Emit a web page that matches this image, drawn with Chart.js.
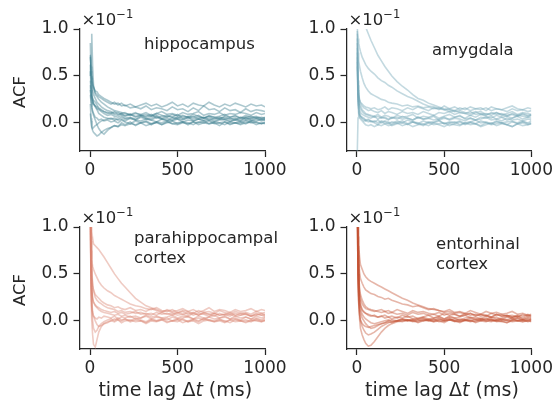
<!DOCTYPE html>
<html>
<head>
<meta charset="utf-8">
<script src="https://cdn.jsdelivr.net/npm/chart.js@4.4.1/dist/chart.umd.min.js"></script>
<style>
  html, body { margin: 0; padding: 0; background: #fff; }
  #wrap { position: relative; width: 556px; height: 408px; }
  #wrap canvas { position: absolute; left: 0; top: 0; }
</style>
</head>
<body>
<div id="wrap">
  <canvas id="c1" width="556" height="408"></canvas>
  <canvas id="c2" width="556" height="408"></canvas>
  <canvas id="c3" width="556" height="408"></canvas>
  <canvas id="c4" width="556" height="408"></canvas>
</div>
<script>
// time lags (ms) shared by every trace
var lagsMs = [2,6,10,15,20,30,40,50,65,80,100,120,140,160,180,200,230,260,290,320,350,380,410,440,470,500,530,560,590,620,650,680,710,740,770,800,830,860,890,920,950,980,1000];

var xTicks = [0, 500, 1000];
var yTicks = [0.0, 0.5, 1.0];

// ACF values in units of 1e-1
var hippocampusTraces = [
  [0.72,0.55,0.42,0.35,0.30,0.26,0.22,0.20,0.17,0.15,0.13,0.12,0.10,0.11,0.09,0.08,0.09,0.07,0.08,0.06,0.07,0.08,0.05,0.07,0.06,0.05,0.07,0.06,0.04,0.06,0.05,0.07,0.04,0.05,0.06,0.04,0.05,0.03,0.06,0.04,0.05,0.03,0.04],
  [0.85,0.48,0.30,0.25,0.20,0.18,0.15,0.14,0.12,0.10,0.08,0.09,0.07,0.06,0.08,0.05,0.06,0.04,0.07,0.05,0.03,0.06,0.04,0.02,0.05,0.04,0.03,0.06,0.02,0.04,0.03,0.05,0.02,0.04,0.03,0.01,0.04,0.02,0.05,0.03,0.02,0.04,0.03],
  [0.30,0.22,0.18,0.12,0.08,0.03,-0.02,-0.06,-0.10,-0.12,-0.08,-0.05,-0.03,-0.04,0.00,-0.02,0.01,-0.03,0.00,0.02,-0.01,0.01,-0.02,0.00,0.02,-0.01,0.01,0.00,-0.02,0.01,0.00,0.02,-0.01,0.00,0.01,-0.02,0.00,0.01,-0.01,0.02,0.00,-0.01,0.01],
  [0.62,0.50,0.45,0.40,0.38,0.34,0.33,0.30,0.28,0.26,0.24,0.22,0.20,0.21,0.18,0.19,0.16,0.17,0.15,0.18,0.14,0.16,0.15,0.13,0.17,0.14,0.15,0.12,0.16,0.13,0.18,0.14,0.15,0.12,0.16,0.13,0.14,0.11,0.15,0.12,0.14,0.13,0.12],
  [0.40,0.25,0.16,0.12,0.10,0.06,0.05,0.03,0.04,0.02,0.03,0.01,0.02,0.00,0.03,0.01,-0.01,0.02,0.00,0.01,-0.02,0.01,0.00,0.02,-0.01,0.00,0.01,-0.02,0.01,0.00,0.02,-0.01,0.01,0.00,-0.02,0.01,0.00,-0.01,0.02,0.00,0.01,-0.01,0.00],
  [0.55,0.38,0.30,0.26,0.24,0.22,0.19,0.16,0.14,0.12,0.10,0.11,0.09,0.08,0.10,0.07,0.09,0.06,0.08,0.07,0.09,0.05,0.07,0.08,0.06,0.09,0.05,0.07,0.06,0.08,0.05,0.07,0.06,0.04,0.07,0.06,0.08,0.05,0.06,0.07,0.05,0.06,0.05],
  [0.20,0.05,-0.05,-0.08,-0.10,-0.12,-0.14,-0.13,-0.10,-0.08,-0.06,-0.05,-0.03,-0.04,-0.02,-0.03,-0.01,-0.02,0.00,-0.03,-0.01,0.00,-0.02,0.01,-0.01,-0.02,0.00,-0.01,0.01,-0.02,0.00,-0.01,0.00,-0.03,0.01,-0.01,0.00,-0.02,0.00,0.01,-0.02,0.00,-0.01],
  [0.50,0.72,0.95,0.60,0.40,0.30,0.28,0.25,0.22,0.20,0.17,0.15,0.13,0.12,0.11,0.10,0.09,0.11,0.08,0.09,0.07,0.10,0.08,0.06,0.09,0.07,0.08,0.06,0.09,0.07,0.05,0.08,0.06,0.07,0.09,0.06,0.07,0.05,0.08,0.06,0.07,0.05,0.06],
  [0.35,0.28,0.25,0.22,0.20,0.17,0.14,0.10,0.08,0.06,0.05,0.04,0.05,0.03,0.04,0.02,0.05,0.03,0.02,0.04,0.03,0.01,0.04,0.03,0.02,0.04,0.01,0.03,0.02,0.04,0.02,0.03,0.01,0.03,0.04,0.02,0.03,0.01,0.03,0.02,0.04,0.02,0.03],
  [0.70,0.60,0.52,0.44,0.38,0.32,0.30,0.28,0.26,0.24,0.22,0.20,0.22,0.19,0.21,0.18,0.20,0.17,0.19,0.21,0.18,0.20,0.17,0.19,0.22,0.18,0.20,0.17,0.21,0.19,0.18,0.22,0.19,0.17,0.20,0.18,0.21,0.19,0.17,0.20,0.18,0.19,0.17],
  [0.10,0.02,-0.04,-0.06,-0.05,-0.03,-0.02,0.00,0.02,0.03,0.04,0.05,0.03,0.04,0.06,0.04,0.05,0.03,0.06,0.04,0.05,0.07,0.04,0.05,0.03,0.06,0.04,0.05,0.07,0.04,0.06,0.03,0.05,0.06,0.04,0.05,0.03,0.06,0.04,0.05,0.06,0.04,0.05],
  [0.45,0.35,0.28,0.24,0.21,0.18,0.17,0.15,0.13,0.12,0.11,0.10,0.12,0.09,0.10,0.11,0.08,0.10,0.09,0.11,0.08,0.10,0.12,0.09,0.10,0.08,0.11,0.09,0.10,0.12,0.08,0.10,0.09,0.11,0.08,0.10,0.09,0.11,0.10,0.08,0.11,0.09,0.10]
];

var amygdalaTraces = [
  [1.40,1.30,1.25,1.20,1.15,1.10,1.06,1.02,0.95,0.88,0.80,0.72,0.66,0.60,0.55,0.50,0.44,0.39,0.35,0.30,0.26,0.24,0.21,0.19,0.17,0.15,0.14,0.12,0.13,0.11,0.10,0.12,0.09,0.10,0.08,0.11,0.09,0.07,0.10,0.08,0.09,0.07,0.08],
  [0.98,0.90,0.85,0.80,0.76,0.70,0.66,0.62,0.58,0.55,0.52,0.48,0.45,0.43,0.40,0.38,0.34,0.31,0.28,0.26,0.23,0.20,0.18,0.17,0.15,0.14,0.12,0.13,0.11,0.10,0.12,0.09,0.10,0.08,0.11,0.09,0.10,0.08,0.09,0.07,0.10,0.08,0.09],
  [0.90,0.75,0.66,0.60,0.55,0.48,0.42,0.38,0.34,0.31,0.29,0.27,0.25,0.24,0.22,0.21,0.20,0.18,0.19,0.17,0.18,0.16,0.17,0.15,0.16,0.14,0.15,0.17,0.14,0.16,0.13,0.15,0.14,0.16,0.13,0.15,0.14,0.12,0.15,0.13,0.14,0.12,0.13],
  [0.95,0.35,0.22,0.18,0.15,0.12,0.10,0.09,0.08,0.07,0.06,0.07,0.05,0.06,0.04,0.05,0.06,0.04,0.05,0.03,0.06,0.04,0.05,0.03,0.04,0.06,0.03,0.05,0.04,0.02,0.05,0.03,0.04,0.06,0.03,0.04,0.02,0.05,0.03,0.04,0.02,0.04,0.03],
  [0.70,0.25,0.15,0.10,0.08,0.05,0.04,0.02,0.03,0.01,0.02,0.00,0.02,0.01,-0.01,0.01,0.00,0.02,-0.01,0.01,0.00,-0.02,0.01,0.00,0.02,-0.01,0.00,0.01,-0.02,0.00,0.01,-0.01,0.02,0.00,-0.01,0.01,0.00,-0.02,0.01,0.00,0.02,-0.01,0.00],
  [-0.30,0.05,0.10,0.08,0.06,0.04,0.02,0.03,0.01,0.02,0.00,-0.02,0.01,-0.01,0.00,-0.03,-0.01,0.00,-0.02,0.01,-0.01,-0.03,0.00,-0.02,-0.01,0.00,-0.03,-0.01,0.01,-0.02,0.00,-0.01,-0.03,0.00,-0.02,-0.01,0.00,-0.02,-0.04,-0.01,0.00,-0.02,-0.01],
  [0.80,0.40,0.28,0.24,0.21,0.18,0.16,0.15,0.13,0.14,0.12,0.11,0.13,0.10,0.12,0.11,0.09,0.12,0.10,0.11,0.09,0.12,0.10,0.08,0.11,0.10,0.12,0.09,0.11,0.10,0.08,0.11,0.12,0.09,0.10,0.11,0.08,0.10,0.12,0.09,0.11,0.10,0.09],
  [0.60,0.20,0.10,0.06,0.04,0.02,0.00,-0.02,-0.03,-0.02,-0.04,-0.02,-0.03,-0.01,-0.03,-0.02,0.00,-0.03,-0.01,-0.04,-0.02,-0.01,-0.03,0.00,-0.02,-0.04,-0.01,-0.02,-0.03,0.00,-0.02,-0.01,-0.04,-0.02,0.00,-0.03,-0.01,-0.02,-0.04,-0.01,-0.03,-0.02,-0.01],
  [1.10,0.45,0.30,0.25,0.22,0.20,0.18,0.17,0.16,0.15,0.16,0.14,0.15,0.17,0.14,0.16,0.15,0.13,0.16,0.14,0.17,0.15,0.13,0.16,0.14,0.18,0.15,0.13,0.16,0.14,0.17,0.15,0.16,0.13,0.17,0.15,0.14,0.16,0.18,0.15,0.14,0.16,0.15],
  [0.75,0.30,0.18,0.14,0.11,0.09,0.08,0.07,0.06,0.05,0.07,0.04,0.06,0.05,0.03,0.06,0.04,0.07,0.05,0.03,0.06,0.04,0.05,0.07,0.03,0.05,0.04,0.06,0.08,0.04,0.05,0.03,0.06,0.05,0.07,0.04,0.06,0.03,0.05,0.07,0.04,0.06,0.05],
  [0.85,0.28,0.14,0.09,0.07,0.06,0.05,0.03,0.04,0.02,0.01,0.03,0.00,0.02,0.01,-0.01,0.02,0.00,0.03,0.01,-0.01,0.02,0.00,0.01,0.03,-0.01,0.01,0.00,0.02,-0.01,0.01,0.03,0.00,0.01,-0.01,0.02,0.00,0.01,0.02,-0.01,0.01,0.00,0.02],
  [0.65,0.32,0.24,0.20,0.18,0.14,0.12,0.10,0.09,0.08,0.07,0.09,0.06,0.08,0.07,0.05,0.08,0.06,0.07,0.09,0.05,0.07,0.06,0.08,0.05,0.07,0.09,0.06,0.07,0.05,0.08,0.06,0.09,0.07,0.05,0.08,0.06,0.07,0.05,0.08,0.07,0.06,0.08]
];

var parahippocampalTraces = [
  [1.50,0.90,0.55,0.40,0.32,0.25,0.22,0.20,0.18,0.16,0.14,0.13,0.12,0.10,0.11,0.09,0.10,0.08,0.09,0.07,0.08,0.06,0.09,0.07,0.08,0.06,0.07,0.09,0.06,0.08,0.07,0.05,0.08,0.06,0.07,0.05,0.08,0.06,0.07,0.05,0.06,0.08,0.06],
  [1.40,1.10,0.95,0.88,0.82,0.80,0.78,0.76,0.72,0.68,0.62,0.56,0.50,0.45,0.40,0.36,0.30,0.24,0.20,0.16,0.14,0.12,0.10,0.11,0.09,0.08,0.10,0.07,0.09,0.06,0.08,0.07,0.05,0.08,0.06,0.07,0.05,0.06,0.08,0.05,0.07,0.06,0.05],
  [1.30,0.85,0.65,0.58,0.55,0.50,0.46,0.42,0.38,0.35,0.32,0.30,0.27,0.25,0.23,0.21,0.18,0.16,0.15,0.13,0.12,0.14,0.11,0.10,0.12,0.09,0.11,0.10,0.08,0.11,0.09,0.10,0.08,0.11,0.09,0.07,0.10,0.08,0.09,0.07,0.10,0.08,0.09],
  [1.20,0.30,0.00,-0.15,-0.25,-0.28,-0.20,-0.12,-0.06,-0.03,-0.01,0.00,0.02,0.01,0.00,0.02,-0.01,0.01,0.00,-0.02,0.01,0.00,0.02,-0.01,0.00,0.01,-0.02,0.00,0.01,-0.01,0.02,0.00,-0.01,0.01,0.00,-0.02,0.01,0.00,-0.01,0.01,0.00,-0.01,0.01],
  [1.60,0.60,0.35,0.25,0.20,0.16,0.14,0.12,0.10,0.09,0.08,0.07,0.06,0.07,0.05,0.06,0.04,0.05,0.03,0.06,0.04,0.05,0.03,0.04,0.06,0.03,0.05,0.04,0.02,0.05,0.03,0.04,0.06,0.03,0.04,0.02,0.05,0.03,0.04,0.02,0.05,0.03,0.04],
  [1.10,0.45,0.20,0.10,0.05,0.00,-0.04,-0.06,-0.05,-0.03,-0.02,0.00,-0.01,0.01,-0.02,0.00,0.01,-0.01,0.00,-0.03,0.00,-0.01,0.01,-0.02,0.00,-0.01,0.02,-0.01,0.00,-0.03,0.00,0.01,-0.01,0.00,-0.02,0.01,-0.01,0.00,-0.02,0.00,0.01,-0.01,0.00],
  [1.40,0.75,0.48,0.38,0.33,0.28,0.26,0.24,0.21,0.19,0.17,0.16,0.14,0.15,0.13,0.12,0.14,0.11,0.12,0.10,0.13,0.11,0.09,0.12,0.10,0.11,0.13,0.10,0.12,0.09,0.11,0.14,0.10,0.12,0.11,0.09,0.12,0.10,0.11,0.13,0.10,0.12,0.11],
  [1.00,0.35,0.15,0.08,0.05,0.03,0.02,0.04,0.03,0.05,0.04,0.03,0.05,0.02,0.04,0.03,0.05,0.02,0.03,0.05,0.02,0.04,0.03,0.01,0.04,0.02,0.03,0.05,0.02,0.03,0.01,0.04,0.02,0.03,0.05,0.02,0.03,0.01,0.04,0.02,0.03,0.01,0.03],
  [1.30,0.55,0.32,0.24,0.20,0.17,0.15,0.14,0.12,0.11,0.10,0.09,0.10,0.08,0.09,0.07,0.08,0.10,0.07,0.08,0.06,0.09,0.07,0.08,0.06,0.09,0.07,0.05,0.08,0.06,0.09,0.07,0.08,0.06,0.07,0.09,0.06,0.08,0.07,0.05,0.08,0.06,0.07],
  [1.20,0.40,0.12,0.00,-0.08,-0.12,-0.10,-0.06,-0.03,-0.01,0.01,0.02,0.00,0.03,0.01,0.02,0.00,0.03,0.01,-0.01,0.02,0.00,0.01,0.03,0.00,0.02,0.01,-0.01,0.02,0.00,0.03,0.01,0.00,0.02,-0.01,0.01,0.02,0.00,0.01,-0.01,0.02,0.00,0.01]
];

var entorhinalTraces = [
  [1.50,1.00,0.80,0.68,0.60,0.55,0.50,0.47,0.44,0.42,0.40,0.38,0.36,0.34,0.32,0.30,0.27,0.24,0.22,0.19,0.17,0.15,0.13,0.12,0.11,0.09,0.10,0.08,0.09,0.07,0.08,0.06,0.07,0.05,0.08,0.06,0.07,0.05,0.06,0.04,0.07,0.05,0.06],
  [1.40,0.90,0.65,0.52,0.45,0.40,0.36,0.33,0.31,0.29,0.28,0.26,0.25,0.23,0.24,0.22,0.20,0.18,0.17,0.15,0.16,0.14,0.12,0.13,0.11,0.10,0.12,0.09,0.10,0.08,0.11,0.09,0.07,0.10,0.08,0.09,0.07,0.08,0.10,0.07,0.08,0.06,0.07],
  [1.30,0.55,0.20,0.02,-0.08,-0.15,-0.20,-0.24,-0.27,-0.26,-0.22,-0.17,-0.12,-0.08,-0.05,-0.03,-0.01,0.00,0.01,-0.01,0.00,0.02,0.00,-0.01,0.01,0.00,0.02,-0.01,0.00,0.01,-0.01,0.00,0.02,0.00,-0.01,0.01,0.00,-0.02,0.01,0.00,-0.01,0.01,0.00],
  [1.20,0.50,0.22,0.08,0.00,-0.06,-0.10,-0.13,-0.15,-0.14,-0.12,-0.09,-0.06,-0.04,-0.02,-0.01,0.00,0.01,0.00,0.02,0.01,0.00,0.02,0.01,0.03,0.00,0.01,0.02,0.00,0.01,0.03,0.01,0.00,0.02,0.01,0.00,0.02,0.01,0.03,0.00,0.01,0.02,0.01],
  [1.60,0.70,0.40,0.26,0.18,0.12,0.10,0.08,0.07,0.06,0.05,0.04,0.05,0.03,0.04,0.02,0.04,0.03,0.05,0.02,0.03,0.04,0.02,0.03,0.05,0.02,0.04,0.03,0.01,0.03,0.04,0.02,0.03,0.01,0.04,0.02,0.03,0.05,0.02,0.03,0.01,0.03,0.02],
  [1.40,0.60,0.30,0.18,0.12,0.07,0.04,0.02,0.00,-0.02,-0.03,-0.02,-0.01,0.00,0.01,-0.01,0.00,0.02,0.00,0.01,-0.01,0.01,0.00,0.02,-0.01,0.00,0.01,0.00,-0.02,0.01,0.00,-0.01,0.01,0.00,0.02,-0.01,0.00,0.01,-0.01,0.00,0.01,-0.01,0.00],
  [1.50,0.80,0.50,0.35,0.28,0.22,0.18,0.15,0.13,0.12,0.11,0.10,0.09,0.10,0.08,0.09,0.07,0.08,0.06,0.09,0.07,0.08,0.06,0.07,0.05,0.08,0.06,0.07,0.05,0.06,0.08,0.05,0.07,0.06,0.04,0.07,0.05,0.06,0.04,0.06,0.05,0.07,0.05],
  [1.30,0.45,0.18,0.06,0.01,-0.03,-0.05,-0.06,-0.07,-0.06,-0.05,-0.04,-0.03,-0.02,-0.01,-0.02,0.00,-0.01,0.01,0.00,-0.02,0.00,0.01,-0.01,0.00,-0.02,0.01,0.00,-0.01,0.00,0.01,-0.02,0.00,-0.01,0.01,0.00,-0.01,-0.02,0.00,0.01,-0.01,0.00,-0.01],
  [1.50,0.65,0.35,0.22,0.16,0.11,0.09,0.08,0.06,0.05,0.06,0.04,0.05,0.06,0.04,0.05,0.03,0.06,0.04,0.05,0.02,0.04,0.06,0.03,0.04,0.02,0.05,0.03,0.04,0.06,0.03,0.04,0.02,0.05,0.03,0.04,0.01,0.04,0.03,0.05,0.02,0.04,0.03],
  [1.20,0.50,0.26,0.14,0.08,0.03,0.00,-0.03,-0.06,-0.08,-0.07,-0.05,-0.03,-0.02,0.00,0.01,0.00,0.02,0.01,0.00,0.02,0.03,0.01,0.00,0.02,0.01,0.03,0.00,0.02,0.01,0.00,0.02,0.01,0.03,0.00,0.01,0.02,0.00,0.01,0.03,0.01,0.00,0.02],
  [1.40,0.75,0.45,0.30,0.23,0.18,0.15,0.13,0.12,0.11,0.10,0.11,0.12,0.10,0.11,0.09,0.12,0.10,0.08,0.11,0.09,0.10,0.08,0.07,0.09,0.06,0.08,0.07,0.05,0.08,0.06,0.07,0.05,0.06,0.04,0.07,0.05,0.06,0.04,0.05,0.03,0.06,0.04]
];

var INK = '#262626';
var FONT = '"DejaVu Sans", sans-serif';
var TICK_FS = 17;
var TEXT_FS = 16.5;
var XLABEL_FS = 19;

// draws the panel label, ×10^-1 offset text, and the axis labels
var decorPlugin = {
  id: 'decor',
  afterDraw: function (chart, args, opts) {
    var ctx = chart.ctx;
    var area = chart.chartArea;
    ctx.save();
    ctx.fillStyle = INK;
    ctx.textBaseline = 'alphabetic';
    ctx.textAlign = 'left';

    // offset text
    ctx.font = TEXT_FS + 'px ' + FONT;
    var ox = area.left + 2, oy = area.top - 4;
    ctx.fillText('\u00d710', ox, oy);
    var w = ctx.measureText('\u00d710').width;
    ctx.font = '11.5px ' + FONT;
    ctx.fillText('\u22121', ox + w, oy - 7);

    // panel label
    ctx.font = TEXT_FS + 'px ' + FONT;
    for (var i = 0; i < opts.label.length; i++) {
      ctx.fillText(opts.label[i], opts.labelX, opts.labelY + i * 20);
    }

    var cx = (area.left + area.right) / 2;
    if (opts.ylabel) {
      ctx.save();
      ctx.translate(21, (area.top + area.bottom) / 2 + 2);
      ctx.rotate(-Math.PI / 2);
      ctx.textAlign = 'center';
      ctx.textBaseline = 'middle';
      ctx.font = TEXT_FS + 'px ' + FONT;
      ctx.fillText('ACF', 0, 0);
      ctx.restore();
    }
    if (opts.xlabel) {
      var p1 = 'time lag \u0394', p2 = 't', p3 = ' (ms)';
      var f = XLABEL_FS + 'px ' + FONT, fi = 'italic ' + XLABEL_FS + 'px ' + FONT;
      ctx.font = f;
      var w1 = ctx.measureText(p1).width, w3 = ctx.measureText(p3).width;
      ctx.font = fi;
      var w2 = ctx.measureText(p2).width;
      var x0 = cx - (w1 + w2 + w3) / 2 + 3, by = area.bottom + 47;
      ctx.font = f;
      ctx.fillText(p1, x0, by);
      ctx.font = fi;
      ctx.fillText(p2, x0 + w1, by);
      ctx.font = f;
      ctx.fillText(p3, x0 + w1 + w2, by);
    }
    ctx.restore();
  }
};

function makePanel(canvasId, traces, color, box, decor) {
  var datasets = traces.map(function (vals) {
    var pts = [];
    for (var i = 0; i < vals.length && i < lagsMs.length; i++) {
      pts.push({ x: lagsMs[i], y: vals[i] });
    }
    return {
      data: pts,
      borderColor: color,
      borderWidth: 1.6,
      pointRadius: 0,
      tension: 0,
      fill: false
    };
  });

  new Chart(document.getElementById(canvasId), {
    type: 'line',
    data: { datasets: datasets },
    plugins: [decorPlugin],
    options: {
      responsive: false,
      animation: false,
      events: [],
      layout: {
        padding: { left: box.left - 50, top: box.top, right: 556 - box.right, bottom: 408 - box.bottom - 40 }
      },
      plugins: {
        legend: { display: false },
        tooltip: { enabled: false },
        decor: decor
      },
      scales: {
        x: {
          type: 'linear',
          min: -60,
          max: 1000,
          afterFit: function (s) { s.height = 40; },
          afterBuildTicks: function (s) { s.ticks = xTicks.map(function (v) { return { value: v }; }); },
          grid: { drawOnChartArea: false, drawTicks: true, tickLength: 6, tickColor: INK, tickWidth: 1.25 },
          border: { display: true, color: INK, width: 1.25 },
          ticks: {
            color: INK, font: { family: FONT, size: TICK_FS }, padding: 3, maxRotation: 0,
            callback: function (v) { return String(v); }
          }
        },
        y: {
          min: -0.3,
          max: 1.0,
          afterFit: function (s) { s.width = 50; },
          afterBuildTicks: function (s) { s.ticks = yTicks.map(function (v) { return { value: v }; }); },
          grid: { drawOnChartArea: false, drawTicks: true, tickLength: 6, tickColor: INK, tickWidth: 1.25 },
          border: { display: true, color: INK, width: 1.25 },
          ticks: {
            color: INK, font: { family: FONT, size: TICK_FS }, padding: 5,
            callback: function (v) { return Number(v).toFixed(1); }
          }
        }
      }
    }
  });
}

makePanel('c1', hippocampusTraces, 'rgba(58,123,140,0.42)',
  { left: 79.5, right: 265, top: 29, bottom: 151 },
  { label: ['hippocampus'], labelX: 144, labelY: 49, ylabel: true, xlabel: false });
makePanel('c2', amygdalaTraces, 'rgba(112,164,180,0.42)',
  { left: 346.5, right: 532, top: 29, bottom: 151 },
  { label: ['amygdala'], labelX: 432, labelY: 55, ylabel: false, xlabel: false });
makePanel('c3', parahippocampalTraces, 'rgba(218,132,112,0.42)',
  { left: 79.5, right: 265, top: 227, bottom: 349 },
  { label: ['parahippocampal', 'cortex'], labelX: 134, labelY: 243, ylabel: true, xlabel: true });
makePanel('c4', entorhinalTraces, 'rgba(196,80,50,0.42)',
  { left: 346.5, right: 532, top: 227, bottom: 349 },
  { label: ['entorhinal', 'cortex'], labelX: 436, labelY: 249, ylabel: false, xlabel: true });
</script>
</body>
</html>
